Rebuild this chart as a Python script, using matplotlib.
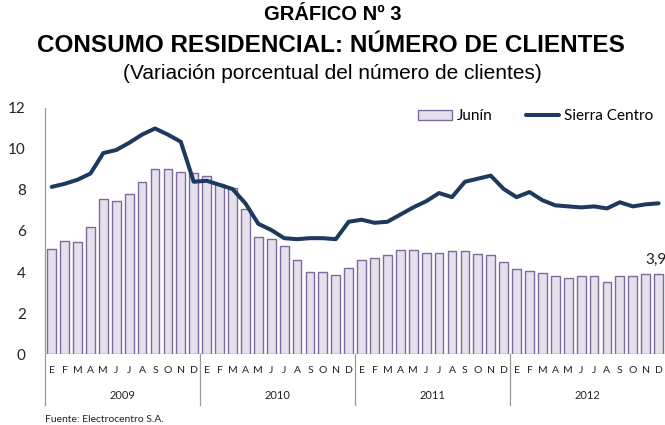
import matplotlib
matplotlib.use("Agg")
import matplotlib.pyplot as plt
import matplotlib.transforms as mtransforms
import numpy as np

years = ["2009", "2010", "2011", "2012"]
months = ["E", "F", "M", "A", "M", "J", "J", "A", "S", "O", "N", "D"]

junin = [5.1, 5.5, 5.45, 6.2, 7.55, 7.45, 7.8, 8.4, 9.0, 9.0, 8.9, 8.85,
         8.7, 8.3, 8.1, 7.05, 5.7, 5.6, 5.25, 4.6, 4.0, 4.0, 3.85, 4.2,
         4.6, 4.7, 4.85, 5.05, 5.05, 4.95, 4.95, 5.0, 5.0, 4.9, 4.85, 4.5,
         4.15, 4.05, 3.95, 3.8, 3.7, 3.8, 3.8, 3.5, 3.8, 3.8, 3.9, 3.9]

sierra = [8.15, 8.3, 8.5, 8.8, 9.8, 9.95, 10.3, 10.7, 11.0, 10.7, 10.35, 8.4,
          8.45, 8.25, 8.05, 7.35, 6.35, 6.05, 5.65, 5.6, 5.65, 5.65, 5.6, 6.45,
          6.55, 6.4, 6.45, 6.8, 7.15, 7.45, 7.85, 7.65, 8.4, 8.55, 8.7, 8.05,
          7.65, 7.9, 7.5, 7.25, 7.2, 7.15, 7.2, 7.1, 7.4, 7.2, 7.3, 7.35]

last_label = "3,9"

plt.rcParams['font.family'] = ['Lato', 'DejaVu Sans']

fig = plt.figure(figsize=(6.65, 4.25), dpi=100)
ax = fig.add_axes([0.068, 0.167, 0.935, 0.579])

x = np.arange(len(junin))
bars = ax.bar(x, junin, width=0.68, color='#E6E0EC', edgecolor='#7E6A9C',
              linewidth=1.0, label='Junín', zorder=2)
line, = ax.plot(x, sierra, color='#1B3A5E', linewidth=2.9,
                solid_joinstyle='round', solid_capstyle='round',
                label='Sierra Centro', zorder=3)

ax.text(x[-1] + 0.6, junin[-1] + 0.35, last_label, ha='right', va='bottom',
        fontsize=11, color='#222222')

ax.set_xlim(-0.5, len(junin) - 0.35)
ax.set_ylim(0, 12)
ax.set_yticks(range(0, 13, 2))
ax.tick_params(axis='y', length=0, pad=14, labelsize=11, colors='#222222')
ax.set_xticks([])
for s in ['top', 'right', 'bottom', 'left']:
    ax.spines[s].set_visible(False)
ax.axhline(0, color='#9A9A9A', linewidth=0.9, zorder=1)

trans = mtransforms.blended_transform_factory(ax.transData, ax.transAxes)
ax.plot([-0.5, -0.5], [1.0, -0.207], color='#9A9A9A', linewidth=0.9,
        transform=trans, clip_on=False)
for i, yr in enumerate(years):
    for j, m in enumerate(months):
        ax.text(i * 12 + j, -0.065, m, transform=trans, ha='center',
                va='center', fontsize=7.5, color='#222222')
    ax.text(i * 12 + 5.5, -0.167, yr, transform=trans, ha='center',
            va='center', fontsize=8, color='#222222')
    if i > 0:
        ax.plot([i * 12 - 0.5, i * 12 - 0.5], [0, -0.207], color='#9A9A9A',
                linewidth=0.9, transform=trans, clip_on=False)

ax.legend([bars, line], ['Junín', 'Sierra Centro'], loc='upper right',
          bbox_to_anchor=(1.0, 1.05), ncol=2, frameon=False, fontsize=11,
          handlelength=2.2, columnspacing=2.2, handletextpad=0.3)

fig.text(0.5, 0.967, "GRÁFICO Nº 3", ha='center', va='center',
         fontsize=14.5, fontweight='bold', family='Liberation Sans')
fig.text(0.498, 0.893, "CONSUMO RESIDENCIAL: NÚMERO DE CLIENTES", ha='center',
         va='center', fontsize=17.5, fontweight='bold', family='Liberation Sans')
fig.text(0.5, 0.826, "(Variación porcentual del número de clientes)",
         ha='center', va='center', fontsize=15, family='Liberation Sans')
fig.text(0.068, 0.002, "Fuente: Electrocentro S.A.", ha='left', va='bottom',
         fontsize=7.5, color='#222222')

fig.savefig("out.png", dpi=100)
